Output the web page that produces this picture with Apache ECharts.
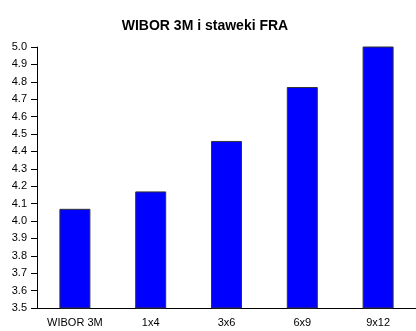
<!DOCTYPE html>
<html>
<head>
<meta charset="utf-8">
<script src="https://cdn.jsdelivr.net/npm/echarts@6/dist/echarts.min.js"></script>
<style>
  html, body { margin: 0; padding: 0; background: #fff; }
  #chart { width: 416px; height: 331px; }
</style>
</head>
<body>
<div id="chart"></div>
<script>
var categories = ['WIBOR 3M', '1x4', '3x6', '6x9', '9x12'];
var rates = [4.07, 4.17, 4.46, 4.77, 5.01];

var chart = echarts.init(document.getElementById('chart'));
chart.setOption({
  animation: false,
  title: {
    text: 'WIBOR 3M i staweki FRA',
    left: 200,
    textAlign: 'center',
    top: 14,
    textStyle: {
      fontFamily: 'Liberation Sans',
      fontWeight: 'bold',
      fontSize: 14,
      color: '#000'
    }
  },
  grid: {
    left: 37,
    right: -6,
    top: 47,
    bottom: 23,
    containLabel: false
  },
  xAxis: {
    type: 'category',
    data: categories,
    axisLine: { lineStyle: { color: '#000', width: 1 } },
    axisTick: { alignWithLabel: false, length: 5, lineStyle: { color: '#000' } },
    axisLabel: {
      color: '#000',
      fontFamily: 'Liberation Sans',
      fontSize: 11,
      margin: 9
    }
  },
  yAxis: {
    type: 'value',
    min: 3.5,
    max: 5.0,
    interval: 0.1,
    axisLine: { show: true, lineStyle: { color: '#000', width: 1 } },
    axisTick: { show: true, length: 6, lineStyle: { color: '#000' } },
    splitLine: { show: false },
    axisLabel: {
      color: '#000',
      fontFamily: 'Liberation Sans',
      fontSize: 11,
      margin: 10,
      formatter: function (v) { return v.toFixed(1); }
    }
  },
  series: [
    {
      type: 'bar',
      data: rates,
      barWidth: 31,
      clip: true,
      itemStyle: {
        color: '#0000FF',
        borderColor: '#333',
        borderWidth: 1
      }
    }
  ]
});
</script>
</body>
</html>
